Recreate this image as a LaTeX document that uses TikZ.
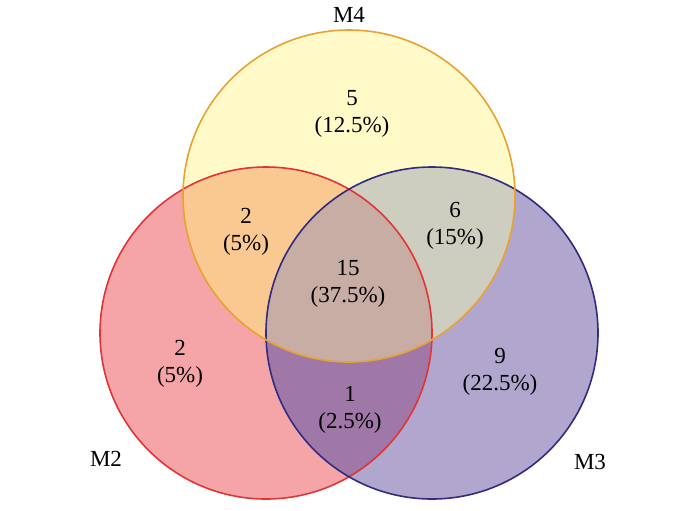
\documentclass[tikz,border=0pt]{standalone}
\usepackage{fontspec}
\setmainfont{Liberation Serif}
\usepackage{xcolor}
\usetikzlibrary{positioning}

% region colours
\definecolor{onlyA}{RGB}{245,165,168}
\definecolor{onlyB}{RGB}{176,166,206}
\definecolor{onlyC}{RGB}{255,250,200}
\definecolor{regAC}{RGB}{250,200,145}
\definecolor{regBC}{RGB}{205,205,192}
\definecolor{regAB}{RGB}{160,120,168}
\definecolor{regABC}{RGB}{200,173,165}
% outlines
\definecolor{lineA}{RGB}{226,52,52}
\definecolor{lineB}{RGB}{48,44,128}
\definecolor{lineC}{RGB}{232,162,48}

\tikzset{
  setcircle/.style={circle, draw, line width=0.8pt, minimum size=166pt, inner sep=0pt},
  count/.style={align=center, font=\fontsize{11.5}{13.5}\selectfont},
  setname/.style={font=\fontsize{11.5}{13.5}\selectfont}
}
\def\setrad{83pt}

\begin{document}
\begin{tikzpicture}[x=0.5pt, y=-0.5pt]
\useasboundingbox (0,0) rectangle (700,510);
\coordinate (c2) at (266,333);
\coordinate (c3) at (432,333);
\coordinate (c4) at (349,196);

% region fills
\fill[onlyA] (c2) circle[radius=\setrad];
\fill[onlyB] (c3) circle[radius=\setrad];
\fill[onlyC] (c4) circle[radius=\setrad];
\begin{scope}
  \clip (c2) circle[radius=\setrad];
  \fill[regAC] (c4) circle[radius=\setrad];
  \fill[regAB] (c3) circle[radius=\setrad];
\end{scope}
\begin{scope}
  \clip (c4) circle[radius=\setrad];
  \fill[regBC] (c3) circle[radius=\setrad];
\end{scope}
\begin{scope}
  \clip (c2) circle[radius=\setrad];
  \clip (c4) circle[radius=\setrad];
  \fill[regABC] (c3) circle[radius=\setrad];
\end{scope}

% the three sets
\node (m2) [setcircle, draw=lineA] at (c2) {};
\node (m3) [setcircle, draw=lineB] at (c3) {};
\node (m4) [setcircle, draw=lineC] at (c4) {};

% set names
\node (m4name) [setname] at (349,15) {M4};
\node (m2name) [setname] at (106,459) {M2};
\node (m3name) [setname] at (590,462) {M3};

% region counts
\node (only4) [count] at (352,114) {5\\(12.5\%)};
\node (m2m4) [count] at (246,232) {2\\(5\%)};
\node (m3m4) [count] at (455,226) {6\\(15\%)};
\node (all) [count] at (348,284) {15\\(37.5\%)};
\node (only2) [count] at (180,364) {2\\(5\%)};
\node (only3) [count] at (500,372) {9\\(22.5\%)};
\node (m2m3) [count] at (350,410) {1\\(2.5\%)};
\end{tikzpicture}
\end{document}
